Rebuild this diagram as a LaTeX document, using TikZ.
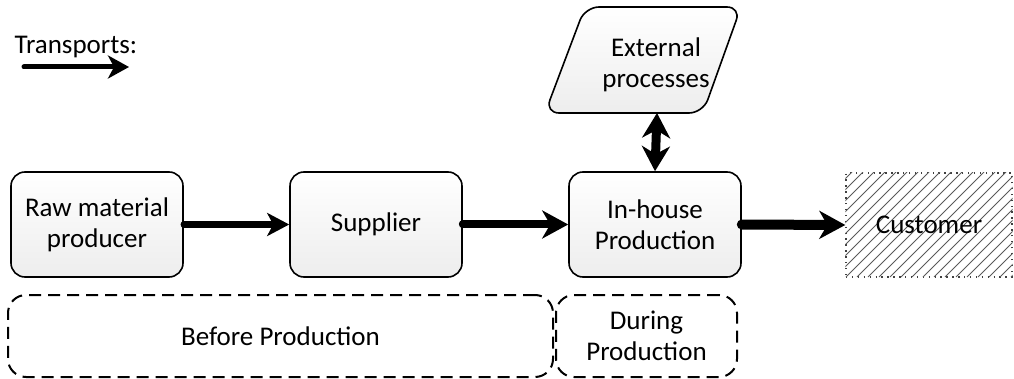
\documentclass[tikz,border=0pt]{standalone}
\usepackage{fontspec}
\setmainfont{Carlito}
\usetikzlibrary{arrows.meta,shapes.geometric}
\begin{document}
\begin{tikzpicture}[x=1pt,y=-1pt,
  txt/.style={font=\fontsize{27}{31}\selectfont},
  proc/.style={draw,line width=1.6pt,rounded corners=14pt,minimum width=172pt,minimum height=105pt,
    top color=white,bottom color=gray!14,align=center,txt,inner sep=0pt},
  phase/.style={draw,line width=2pt,dash pattern=on 12pt off 7pt,rounded corners=18pt,align=center,
    txt,inner sep=0pt},
  hatch/.style={black!65,line width=0.8pt},
  trans/.style={-{Stealth[length=26pt,width=28pt,inset=8pt]},line cap=round}]
\useasboundingbox (0,0) rectangle (1014,379);
\node[anchor=west,txt] (tl) at (11,47) {Transports:};
\coordinate (la) at (24,67);
\coordinate (lb) at (129,67);
\draw[-{Stealth[length=21pt,width=23pt,inset=6pt]},line cap=round,line width=5pt] (la) -- (lb);

\node[proc] (raw) at (97,224.5) {Raw material\\producer};
\node[proc] (sup) at (376,224.5) {Supplier};
\node[proc] (inh) at (655,224.5) {In-house\\Production};
\node[draw,line width=1.4pt,black!75,dash pattern=on 1.4pt off 4.5pt,minimum width=166pt,minimum height=104pt,
  inner sep=0pt] (cus) at (929,225) {};
\begin{scope}
  \clip (cus.south west) rectangle (cus.north east);
  \foreach \k in {-110,-99,...,170}
    \draw[hatch] (846+\k,277) -- (846+\k+105,172);
\end{scope}
\node[txt] (cust) at (cus.center) {Customer};

\draw[line width=1.6pt,rounded corners=14pt,top color=white,bottom color=gray!14]
  (585,7) -- (741,7) -- (703,113) -- (545,113) -- cycle;
\node[align=center,txt] (ext) at (656,65) {External\\processes};
\coordinate (eb) at (657,113);

\draw[-{Stealth[length=22pt,width=23pt,inset=6pt]},line cap=round,line width=6.5pt] (raw.east) -- (sup.west);
\draw[trans,line width=8pt] (sup.east) -- (inh.west);
\draw[trans,line width=10pt] (inh.east) -- (cus.west);
\draw[{Stealth[length=25pt,width=28pt,inset=8pt]}-{Stealth[length=25pt,width=28pt,inset=8pt]},line width=9pt]
  (eb) -- (inh.north);

\node[phase,minimum width=545pt,minimum height=82pt] (bef) at (280.5,336) {Before Production};
\node[phase,minimum width=181pt,minimum height=82pt] (dur) at (646.5,336) {During\\Production};
\end{tikzpicture}
\end{document}
